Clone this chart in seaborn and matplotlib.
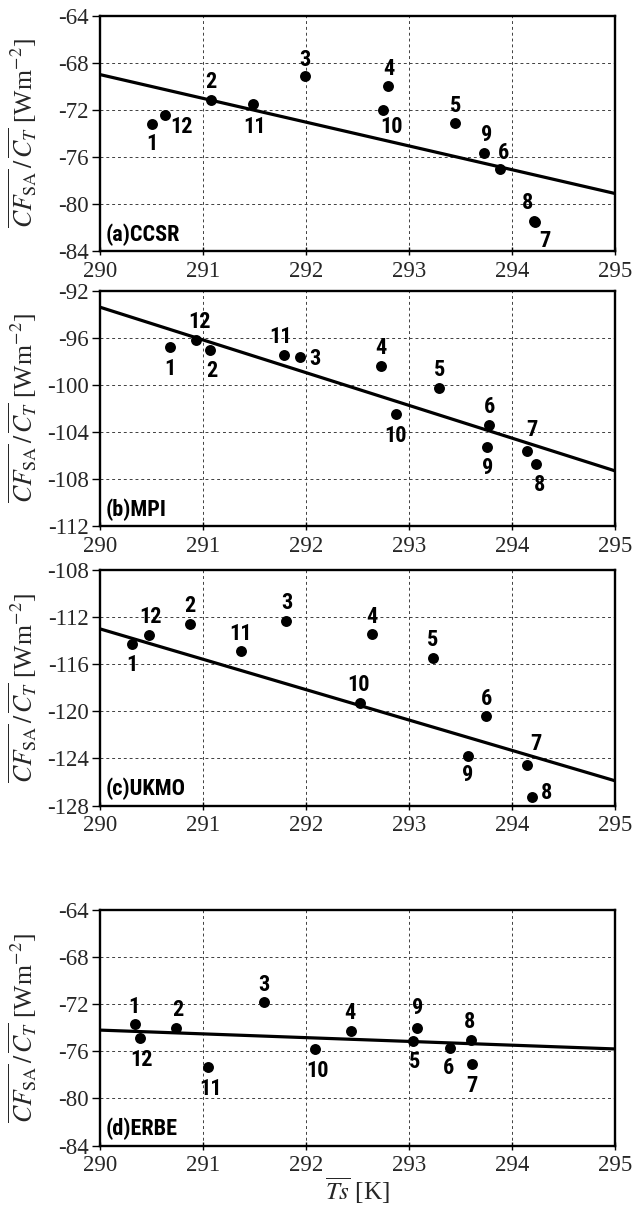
import numpy as np
import pandas as pd
import matplotlib
matplotlib.use("Agg")
import matplotlib.pyplot as plt
from matplotlib import font_manager
import seaborn as sns

# ---------------- data ----------------
months = [1, 2, 3, 4, 5, 6, 7, 8, 9, 10, 11, 12]
x_ticks = [290, 291, 292, 293, 294, 295]

ts_a = [290.50, 291.08, 291.99, 292.80, 293.45, 293.88, 294.22, 294.21, 293.73, 292.75, 291.49, 290.63]
cf_a = [-73.2, -71.2, -69.1, -70.0, -73.1, -77.0, -81.5, -81.4, -75.7, -72.0, -71.5, -72.4]
fit_a = [-69.0, -79.1]

ts_b = [290.68, 291.07, 291.94, 292.73, 293.29, 293.78, 294.15, 294.23, 293.76, 292.87, 291.79, 290.93]
cf_b = [-96.75, -97.06, -97.66, -98.37, -100.26, -103.43, -105.61, -106.68, -105.24, -102.47, -97.43, -96.19]
fit_b = [-93.4, -107.3]

ts_c = [290.31, 290.87, 291.81, 292.64, 293.23, 293.75, 294.15, 294.19, 293.57, 292.52, 291.37, 290.48]
cf_c = [-114.3, -112.6, -112.3, -113.4, -115.5, -120.4, -124.6, -127.3, -123.8, -119.3, -114.9, -113.5]
fit_c = [-113.0, -125.9]

ts_d = [290.34, 290.74, 291.59, 292.44, 293.04, 293.40, 293.61, 293.60, 293.08, 292.09, 291.05, 290.39]
cf_d = [-73.7, -74.0, -71.8, -74.25, -75.1, -75.7, -77.1, -75.0, -74.0, -75.8, -77.3, -74.85]
fit_d = [-74.2, -75.8]

panel_titles = ["(a)CCSR", "(b)MPI", "(c)UKMO", "(d)ERBE"]
y_ranges = [(-84, -64), (-112, -92), (-128, -108), (-84, -64)]

# label offsets (pixels) for month numbers, per panel, order = months
offs_a = [(0, -20), (0, 18), (0, 16), (0, 17), (0, 17), (4, 16), (10, -19), (-6, 18), (2, 18), (8, -17), (1, -23), (17, -12)]
offs_b = [(0, -22), (2, -21), (15, -2), (0, 18), (1, 18), (0, 18), (4, 21), (4, -21), (0, -21), (0, -22), (-4, 18), (4, 18)]
offs_c = [(0, -21), (0, 18), (0, 18), (0, 17), (0, 18), (0, 17), (8, 21), (15, 4), (0, -19), (-1, 18), (-1, 17), (1, 18)]
offs_d = [(-1, 17), (2, 18), (0, 17), (-1, 18), (2, -21), (-2, -20), (0, -22), (-1, 18), (0, 20), (2, -22), (2, -22), (1, -22)]

panels = [
    (ts_a, cf_a, fit_a, offs_a),
    (ts_b, cf_b, fit_b, offs_b),
    (ts_c, cf_c, fit_c, offs_c),
    (ts_d, cf_d, fit_d, offs_d),
]

# ---------------- style ----------------
sns.set_theme(style="white")


def pick_narrow_bold():
    fl = font_manager.fontManager.ttflist
    prefs = ["Liberation Sans Narrow", "Roboto Condensed", "Open Sans Condensed",
             "DejaVu Sans Condensed", "Noto Sans Condensed"]
    for p in prefs:
        for f in fl:
            fn = f.fname.replace(" ", "").lower()
            key = p.replace(" ", "").lower()
            if key in fn and ("bold" in fn) and "italic" not in fn and "oblique" not in fn \
                    and "extrabold" not in fn and "semibold" not in fn:
                return font_manager.FontProperties(fname=f.fname)
    for f in fl:
        fn = f.fname.lower()
        if ("narrow" in fn or "condensed" in fn) and "bold" in fn and "italic" not in fn \
                and "oblique" not in fn and "extra" not in fn and "semi" not in fn:
            return font_manager.FontProperties(fname=f.fname)
    return font_manager.FontProperties(family="Liberation Sans", weight="bold")


narrow_fp = pick_narrow_bold()

plt.rcParams["font.family"] = ["Liberation Serif", "DejaVu Serif"]
plt.rcParams["mathtext.fontset"] = "stix"

fig = plt.figure(figsize=(6.33, 12.11), dpi=100)
left, width = 100 / 633, 515 / 633
tops = [15.7, 290.7, 570.0, 910.0]
hgt = 235.5

ylabel = r"$\overline{CF_{\mathrm{SA}}}\,/\,\overline{C_{T}}$ [Wm$^{-2}$]"

for i, (ts, cf, fit, offs) in enumerate(panels):
    bottom = 1 - (tops[i] + hgt) / 1211
    ax = fig.add_axes([left, bottom, width, hgt / 1211])
    df = pd.DataFrame({"Ts": ts, "CF": cf, "month": months})
    fit_df = pd.DataFrame({"Ts": [x_ticks[0], x_ticks[-1]], "CF": fit})
    sns.lineplot(data=fit_df, x="Ts", y="CF", ax=ax, color="black", lw=2.3, zorder=3)
    sns.scatterplot(data=df, x="Ts", y="CF", ax=ax, color="black", s=62,
                    edgecolor="black", linewidth=0, zorder=4)
    for m, x, y, (dx, dy) in zip(months, ts, cf, offs):
        fp = narrow_fp.copy()
        fp.set_size(16)
        ax.annotate(str(m), (x, y), xytext=(dx, dy), textcoords="offset pixels",
                    ha="center", va="center", fontproperties=fp,
                    color="black", zorder=5)
    fp = narrow_fp.copy()
    fp.set_size(16)
    ax.annotate(panel_titles[i], (0, 0), xycoords="axes fraction", xytext=(6, 5),
                textcoords="offset pixels", ha="left", va="bottom",
                fontproperties=fp, color="black")
    lo, hi = y_ranges[i]
    ax.set_xlim(x_ticks[0], x_ticks[-1])
    ax.set_ylim(lo, hi)
    ax.set_xticks(x_ticks)
    ax.set_yticks(np.arange(lo, hi + 1, 4))
    ax.set_xticklabels([str(t) for t in x_ticks])
    ax.set_yticklabels([str(int(t)) for t in np.arange(lo, hi + 1, 4)])
    ax.grid(True, color="0.25", linestyle=(0, (3, 3)), linewidth=0.7)
    for s in ax.spines.values():
        s.set_color("black")
        s.set_linewidth(1.7)
        s.set_zorder(6)
    ax.tick_params(axis="y", direction="out", length=6, width=1, pad=2,
                   labelsize=16.5, left=True, color="black")
    ax.tick_params(axis="x", direction="inout", length=6, width=1, pad=4,
                   labelsize=16.5, bottom=True, color="black")
    ax.set_ylabel(ylabel, fontsize=18.5)
    ax.yaxis.set_label_coords(-0.118, 0.5)
    if i == 3:
        ax.set_xlabel(r"$\overline{Ts}$ [K]", fontsize=18, labelpad=0)
    else:
        ax.set_xlabel("")

fig.savefig("out.png", dpi=100, facecolor="white")
